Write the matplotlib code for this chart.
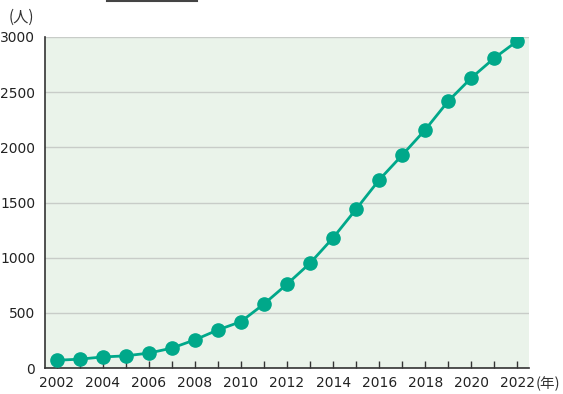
import matplotlib
matplotlib.use("Agg")
import matplotlib.pyplot as plt
from matplotlib.lines import Line2D

# ===== データ =====
years = list(range(2002, 2023))
people = [70, 80, 100, 110, 135, 180, 255, 345, 420, 580, 760,
          950, 1180, 1440, 1705, 1930, 2160, 2420, 2630, 2810, 2965]
yticks = [0, 500, 1000, 1500, 2000, 2500, 3000]
xticks = list(range(2002, 2023, 2))

teal = "#00A88A"
num_font = ["DejaVu Sans"]
cjk_font = ["Noto Sans CJK JP", "DejaVu Sans"]

fig = plt.figure(figsize=(5.63, 3.94), dpi=100)
ax = fig.add_axes([45 / 563, 26 / 394, 484 / 563, 331 / 394])
ax.set_facecolor("#EAF3EA")

ax.plot(years, people, color=teal, lw=2.0, marker="o", ms=9.5,
        markerfacecolor=teal, markeredgecolor=teal, zorder=3)

ax.set_xlim(2001.5, 2022.5)
ax.set_ylim(0, 3000)
ax.set_yticks(yticks)
ax.set_xticks(years)
ax.set_xticklabels([str(y) if y in xticks else "" for y in years])
ax.grid(axis="y", color="#C8CCC8", lw=1.0)
ax.set_axisbelow(True)

for s in ["top", "right"]:
    ax.spines[s].set_visible(False)
ax.spines["left"].set_color("#333333")
ax.spines["bottom"].set_color("#333333")
ax.spines["left"].set_linewidth(1.2)
ax.spines["bottom"].set_linewidth(1.2)

ax.tick_params(axis="x", direction="in", length=5, width=1, color="#333333", pad=6)
ax.tick_params(axis="y", length=0, pad=7)
for lab in ax.get_xticklabels() + ax.get_yticklabels():
    lab.set_family(num_font)
    lab.set_fontsize(10)
    lab.set_color("#222222")

fig.text(9 / 563, 1 - 17 / 394, "(人)", family=cjk_font, fontsize=11,
         color="#333333", va="center", ha="left")
fig.text(536 / 563, 1 - 384 / 394, "(年)", family=cjk_font, fontsize=10.5,
         color="#333333", va="center", ha="left")

# 上端の線
fig.add_artist(Line2D([107 / 563, 197 / 563], [1 - 1 / 394, 1 - 1 / 394],
                      transform=fig.transFigure, color="#444444", lw=1.5))

fig.savefig("out.png", dpi=100)
